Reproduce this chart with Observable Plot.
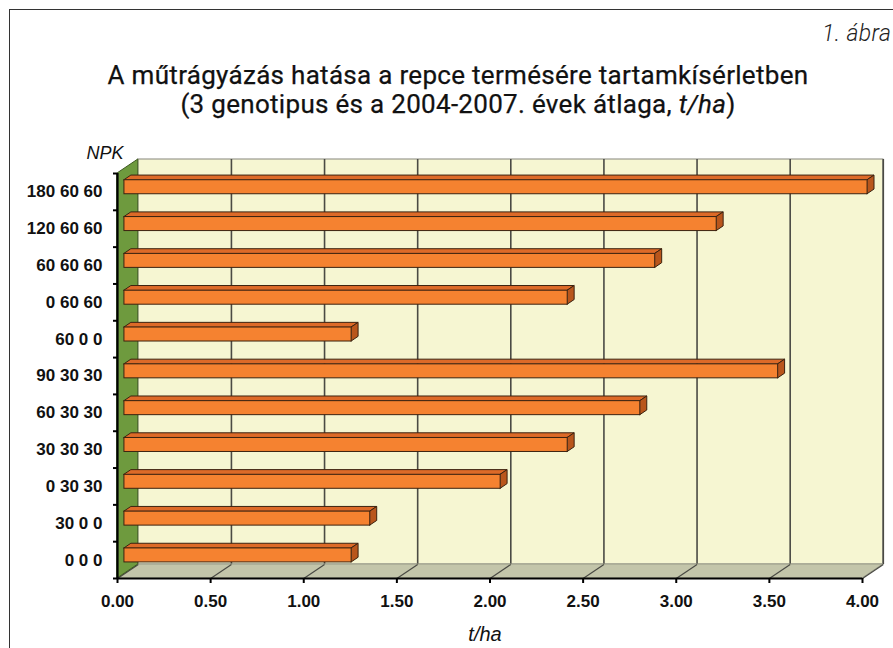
<!DOCTYPE html>
<html>
<head>
<meta charset="utf-8">
<script src="https://cdn.jsdelivr.net/npm/d3@7"></script>
<script src="https://cdn.jsdelivr.net/npm/@observablehq/plot@0.6"></script>
<style>
  body { margin: 0; background: #fff; }
  #fig { position: relative; width: 893px; height: 648px; overflow: hidden; background: #fff; }
  #frame { position: absolute; left: 9px; top: 9px; width: 1000px; height: 1000px; border-left: 1.5px solid #333; border-top: 1.5px solid #333; }
  #abra { position: absolute; left: 822px; top: 20px; font: italic 300 23px Roboto, sans-serif; letter-spacing: 0.4px; color: #222; white-space: nowrap; }
  #title { position: absolute; left: 0; top: 61px; width: 916px; text-align: center; font: 400 26px Roboto, sans-serif; letter-spacing: 0.3px; color: #111; line-height: 29px; -webkit-text-stroke: 0.25px #111; }
  #chart { position: absolute; left: 0; top: 140px; }
  #chart g[aria-label="y-axis tick label"], #chart g[aria-label="y-axis tick label"] text,
  #chart g[aria-label="x-axis tick label"], #chart g[aria-label="x-axis tick label"] text {
    font-size: 17px; font-weight: bold;
  }
</style>
</head>
<body>
<div id="fig">
  <div id="frame"></div>
  <div id="abra">1. ábra</div>
  <div id="title">A műtrágyázás hatása a repce termésére tartamkísérletben<br>(3 genotipus és a 2004-2007. évek átlaga, <i>t/ha</i>)</div>
  <div id="chart"></div>
</div>
<script>
// ---- data ----
const categories = ["0 0 0", "30 0 0", "0 30 30", "30 30 30", "60 30 30", "90 30 30", "60 0 0", "0 60 60", "60 60 60", "120 60 60", "180 60 60"];
const yields = [1.22, 1.32, 2.02, 2.38, 2.77, 3.51, 1.22, 2.38, 2.85, 3.18, 3.99];
const xTicks = [0, 0.5, 1, 1.5, 2, 2.5, 3, 3.5, 4];
const xLabel = "t/ha";
const yLabel = "NPK";

// ---- layout ----
const W = 893, H = 508;
const mL = 117, mR = 31, mT = 33, mB = 70;
const xMax = 4, n = categories.length;
const kx = (W - mL - mR) / xMax;       // px per x unit
const ky = (H - mT - mB) / n;          // px per y unit
const depthX = 20.8 / kx;              // 3D depth offset in data units
const depthY = 14 / ky;
const barH = 14 / ky;
const d1 = 1 / 3, d2 = 2 / 3;          // bar depth range

const rows = categories.map((c, i) => ({cat: c, i, v: yields[i]}));
const barBot = r => r.i + 0.5 - barH / 2;
const barTop = r => r.i + 0.5 + barH / 2;

const topFace = rows.flatMap(r => [
  {cat: r.cat, y: barTop(r) + d1 * depthY, x1: d1 * depthX, x2: r.v + d1 * depthX},
  {cat: r.cat, y: barTop(r) + d2 * depthY, x1: d2 * depthX, x2: r.v + d2 * depthX}
]);
const capFace = rows.flatMap(r => [
  {cat: r.cat, x: r.v + d1 * depthX, y1: barBot(r) + d1 * depthY, y2: barTop(r) + d1 * depthY},
  {cat: r.cat, x: r.v + d2 * depthX, y1: barBot(r) + d2 * depthY, y2: barTop(r) + d2 * depthY}
]);
const floorPoly = [
  {y: 0, x1: 0, x2: xMax},
  {y: depthY, x1: depthX, x2: xMax + depthX}
];
const sideWall = [
  {x: 0, y1: 0, y2: n},
  {x: depthX, y1: depthY, y2: n + depthY}
];
const edge = "#3b2210";

const chart = Plot.plot({
  width: W, height: H,
  marginLeft: mL, marginRight: mR, marginTop: mT, marginBottom: mB,
  x: {domain: [0, xMax]},
  y: {domain: [0, n]},
  style: {fontFamily: "'Liberation Sans', Arial, sans-serif", fontSize: "16px", color: "#111", background: "transparent", overflow: "visible"},
  marks: [
    // back wall
    Plot.rect([0], {x1: depthX, x2: xMax + depthX, y1: depthY, y2: n + depthY, fill: "#f6f6d2", stroke: "#9a9a90", strokeWidth: 1.2}),
    Plot.ruleX(xTicks.slice(1), {x: d => d + depthX, y1: depthY, y2: n + depthY, stroke: "#4a4a44", strokeWidth: 1.6}),
    // floor
    Plot.areaX(floorPoly, {y: "y", x1: "x1", x2: "x2", fill: "#c3c5aa", stroke: "#9a9c88", strokeWidth: 1}),
    Plot.link(xTicks, {x1: d => d, y1: 0, x2: d => d + depthX, y2: depthY, stroke: "#4a4a44", strokeWidth: 1.2}),
    // side wall
    Plot.areaY(sideWall, {x: "x", y1: "y1", y2: "y2", fill: "#6e9a3e", stroke: "#3f5a22", strokeWidth: 1}),
    // bars
    Plot.areaX(topFace, {y: "y", x1: "x1", x2: "x2", z: "cat", fill: "#dd6a28", stroke: edge, strokeWidth: 1}),
    Plot.areaY(capFace, {x: "x", y1: "y1", y2: "y2", z: "cat", fill: "#b9561c", stroke: edge, strokeWidth: 1}),
    Plot.rect(rows, {x1: d1 * depthX, x2: r => r.v + d1 * depthX, y1: r => barBot(r) + d1 * depthY, y2: r => barTop(r) + d1 * depthY, fill: "#f58230", stroke: edge, strokeWidth: 1}),
    // axes
    Plot.ruleX([0], {y1: 0, y2: n, stroke: "#000", strokeWidth: 2.2}),
    Plot.ruleY([0], {x1: 0, x2: xMax, stroke: "#000", strokeWidth: 2.2}),
    Plot.axisY(d3.range(n + 1), {tickSize: 4, tickFormat: () => "", stroke: "#000", strokeWidth: 2, label: null}),
    Plot.axisY(d3.range(n).map(i => i + 0.5), {tickSize: 0, tickPadding: 15, tickFormat: d => categories[Math.floor(d)], fontWeight: "bold", fontSize: 17, fill: "#111", label: null}),
    Plot.axisX(xTicks, {tickSize: 5, tickPadding: 11, tickFormat: d3.format(".2f"), fontWeight: "bold", fontSize: 17, stroke: "#000", strokeWidth: 2, fill: "#111", label: null}),
    Plot.text([xLabel], {frameAnchor: "bottom", dx: -5, dy: 62, lineAnchor: "bottom", text: d => d, fontStyle: "italic", fontSize: 20, fill: "#111"}),
    Plot.text([yLabel], {frameAnchor: "top-left", dx: 6, dy: -14.5, lineAnchor: "bottom", textAnchor: "end", text: d => d, fontStyle: "italic", fontSize: 18, fill: "#111"})
  ]
});
document.getElementById("chart").appendChild(chart);
</script>
</body>
</html>
